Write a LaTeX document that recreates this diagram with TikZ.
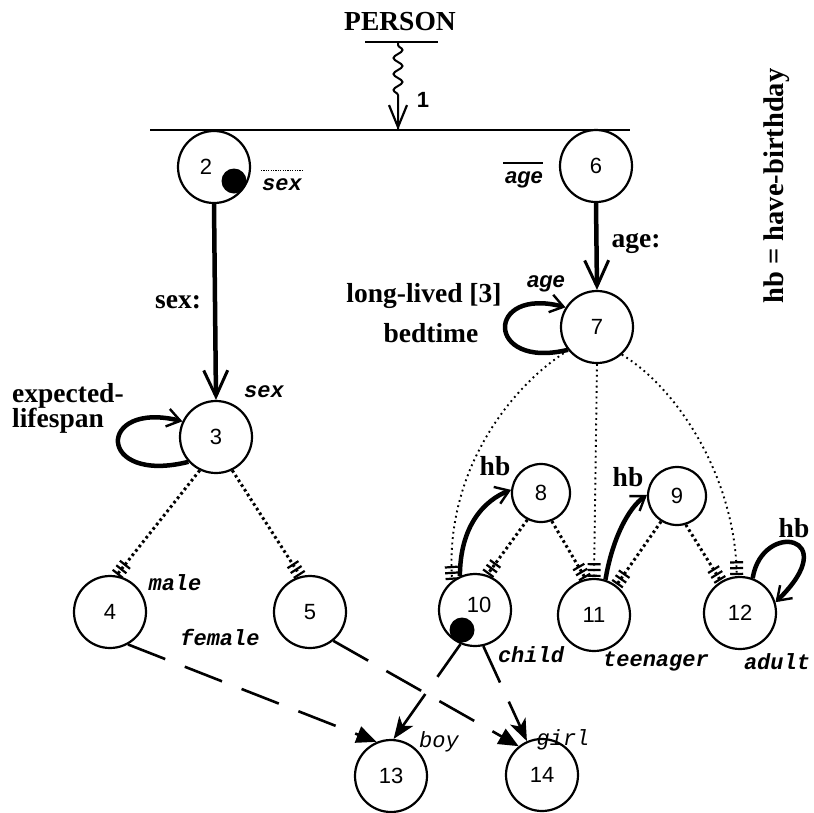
\documentclass[tikz,border=0pt]{standalone}
\usepackage{fontspec}
\setmainfont{Liberation Serif}
\newfontfamily\sansf{Liberation Sans}
\newfontfamily\monof{Liberation Mono}
\usetikzlibrary{arrows.meta,decorations.pathmorphing}
\tikzset{
  st/.style={circle, draw, line width=2.2pt, minimum size=72pt, inner sep=0pt, font=\sansf\fontsize{22}{22}\selectfont},
  sm/.style={st, minimum size=58pt},
  num/.style={font=\sansf\fontsize{22}{22}\selectfont, inner sep=0pt},
  blackdot/.style={circle, fill=black, minimum size=25pt, inner sep=0pt},
  lbl/.style={font=\bfseries\fontsize{27.5}{29}\selectfont, inner sep=0pt},
  mono/.style={font=\monof\bfseries\itshape\fontsize{22}{22}\selectfont, inner sep=0pt},
  monolight/.style={font=\monof\itshape\fontsize{22}{22}\selectfont, inner sep=0pt},
  agel/.style={font=\sansf\bfseries\itshape\fontsize{22}{22}\selectfont, inner sep=0pt},
  thickarr/.style={line width=4.5pt, -{Straight Barb[length=26pt,width=24pt,line width=3pt]}},
  hbarr/.style={line width=4.5pt, -{Straight Barb[length=13pt,width=18pt,line width=2.4pt]}},
  ticks/.style={-{Bar[width=13pt,line width=2.2pt,sep=3.6pt]Bar[width=13pt,line width=2.2pt,sep=3.6pt]Bar[width=13pt,line width=2.2pt]}, shorten >=1pt},
  dotthick/.style={ticks, line width=3pt, dash pattern=on 2.6pt off 3pt},
  dotthin/.style={ticks, line width=1.9pt, dash pattern=on 1.8pt off 3.6pt},
  dasharr/.style={line width=2.6pt, dash pattern=on 40pt off 21pt, -{Triangle[length=20pt,width=17pt]}},
  dasharrb/.style={line width=2.6pt, dash pattern=on 40pt off 21pt, -{Stealth[length=22pt,width=17pt,inset=6pt]}}
}
\begin{document}
\begin{tikzpicture}[x=1pt,y=-1pt]
\useasboundingbox (0,0) rectangle (814,812);

% header
\node[lbl] (pers) at (400,22) {PERSON};
\coordinate (pbl) at (365,42);
\coordinate (pbr) at (438,42);
\draw[line width=2.4pt] (pbl) -- (pbr);
\coordinate (pw) at (398,43);
\coordinate (pb) at (398,100);
\coordinate (pa) at (398,130);
\draw[line width=2pt, decorate, decoration={snake, amplitude=4.5pt, segment length=16pt, pre length=2pt, post length=28pt}] (pw) -- (pa);
\draw[line width=2pt, -{Straight Barb[length=22pt,width=18pt,line width=2.2pt]}] (pb) -- (pa);
\node[num, font=\sansf\bfseries\fontsize{22}{22}\selectfont] (one) at (423,100) {1};
\coordinate (tl) at (150,130);
\coordinate (tr) at (630,130);
\draw[line width=2.4pt] (tl) -- (tr);

% nodes
\node[st, label={[num, xshift=-8pt]center:2}] (n2) at (214,167) {};
\node[blackdot] (d2) at (234,181) {};
\node[st] (n6) at (596,166) {6};
\node[st] (n3) at (216,437) {3};
\node[st] (n7) at (597,327) {7};
\node[st] (n4) at (110,612) {4};
\node[st] (n5) at (310,612) {5};
\node[st, label={[num, xshift=4pt, yshift=5pt]center:10}] (n10) at (475,610) {};
\node[blackdot] (d10) at (462,630) {};
\node[st] (n11) at (594,615) {11};
\node[st] (n12) at (740,613) {12};
\node[sm] (n8) at (541,493) {8};
\node[sm] (n9) at (677,496) {9};
\node[st] (n13) at (391,776) {13};
\node[st] (n14) at (542,775) {14};

% labels
\node[mono] (sex2) at (282,185) {sex};
\coordinate (s2a) at (261,170);
\coordinate (s2b) at (302,170);
\draw[line width=1pt, dash pattern=on 1.2pt off 1.2pt] (s2a) -- (s2b);
\node[agel] (age6) at (524,180) {age};
\coordinate (a6a) at (503,163);
\coordinate (a6b) at (543,163);
\draw[line width=1.4pt] (a6a) -- (a6b);
\node[lbl] (sexc) at (178,302) {sex:};
\node[lbl] (agec) at (636,243) {age:};
\node[mono] (sex3) at (264,392) {sex};
\node[agel] (age7) at (546,284) {age};
\node[lbl] (ll) at (424,296) {long-lived [3]};
\node[lbl] (bed) at (431,333) {bedtime};
\node[lbl, align=left, anchor=west] (exp) at (12,408) {expected-\\[-4pt]lifespan};
\node[lbl] (hb8) at (495,466) {hb};
\node[lbl] (hb9) at (628,477) {hb};
\node[lbl] (hb12) at (794,528) {hb};
\node[lbl, rotate=90, font=\bfseries\fontsize{28.5}{30}\selectfont] (hbdef) at (777,186) {hb = have-birthday};
\node[mono] (male) at (175,583) {male};
\node[mono] (female) at (220,637) {female};
\node[mono] (child) at (531,655) {child};
\node[mono] (teen) at (656,661) {teenager};
\node[mono] (adult) at (777,662) {adult};
\node[monolight] (boy) at (439,742) {boy};
\node[monolight] (girl) at (563,740) {girl};

% solid arrows
\draw[thickarr] (n2.south) -- (n3.north);
\draw[thickarr] (n6.south) -- (n7.north);
\draw[hbarr] (n3.-138) .. controls (96,485) and (96,400) .. (n3.155);
\draw[hbarr] (n7.-142) .. controls (485,370) and (485,286) .. (n7.148);
\draw[hbarr] (n12.70) .. controls (762,520) and (845,535) .. (n12.17);
\draw[hbarr] (n10.114) .. controls (460,525) and (485,500) .. (n8.174);
\draw[hbarr] (n11.72) .. controls (612,540) and (628,508) .. (n9.178);

% dotted specialisation edges
\draw[dotthick] (n3.-116) -- (n4.80);
\draw[dotthick] (n3.-64) -- (n5.105);
\draw[dotthick] (n8.-117) -- (n10.71);
\draw[dotthick] (n8.-69) -- (n11.103);
\draw[dotthick] (n9.-122) -- (n11.53);
\draw[dotthick] (n9.-73) -- (n12.121);
\draw[dotthin] (n7.-141) .. controls (512,385) and (445,470) .. (n10.128);
\draw[dotthin] (n7.south) -- (n11.north);
\draw[dotthin] (n7.-48) .. controls (680,390) and (735,480) .. (n12.95);

% dashed edges
\draw[dasharr] (n4.-61) -- (n13.113);
\draw[dasharr] (n5.-51) -- (n14.129);
\draw[dasharrb] (n10.-113) -- (n13.86);
\draw[dasharrb] (n10.-77) -- (n14.114);
\end{tikzpicture}
\end{document}
